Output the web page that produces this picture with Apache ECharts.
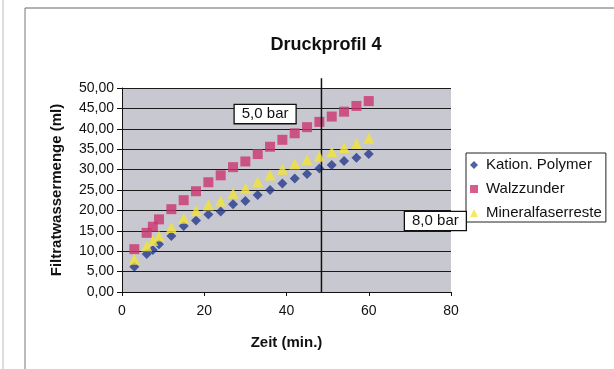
<!DOCTYPE html>
<html>
<head>
<meta charset="utf-8">
<script src="https://cdn.jsdelivr.net/npm/echarts@6/dist/echarts.min.js"></script>
<style>
  html, body { margin: 0; padding: 0; background: #ffffff; }
  #chart { width: 614px; height: 369px; }
</style>
</head>
<body>
<div id="chart"></div>
<script>
// Measurement times (min.)
const zeit = [3, 6, 7.5, 9, 12, 15, 18, 21, 24, 27, 30, 33, 36, 39, 42, 45, 48, 51, 54, 57, 60];

// Filtrate volume (ml) per additive
const kationPolymer = [6.2, 9.3, 10.3, 11.7, 13.7, 16.2, 17.5, 19.0, 19.7, 21.5, 22.3, 23.8, 25.0, 26.6, 27.8, 28.9, 30.3, 31.1, 32.1, 32.9, 33.8];
const walzzunder = [10.5, 14.5, 16.0, 17.8, 20.3, 22.5, 24.7, 26.9, 28.6, 30.6, 32.0, 33.8, 35.6, 37.3, 38.9, 40.4, 41.7, 43.0, 44.2, 45.6, 46.8];
const mineralfaserreste = [8.0, 11.3, 12.6, 13.7, 15.8, 18.1, 19.9, 21.3, 22.3, 24.2, 25.4, 27.0, 28.7, 30.1, 31.4, 32.4, 33.3, 34.4, 35.4, 36.4, 37.7];

// Pressure switch time and pressure stage labels
const druckWechsel = 48.5;
const druckLinieOben = 52.4;
const druckStufen = [
  { text: '5,0 bar', x: 34.8, y: 43.6 },
  { text: '8,0 bar', x: 76.2, y: 17.4 }
];

const pair = (ys) => zeit.map((t, i) => [t, ys[i]]);
const font = '"Liberation Sans", Arial, sans-serif';
const fmt = (v) => v.toFixed(2).replace('.', ',');

const chart = echarts.init(document.getElementById('chart'), null, { renderer: 'canvas' });

chart.setOption({
  animation: false,
  backgroundColor: '#ffffff',
  textStyle: { fontFamily: font },
  title: {
    text: 'Druckprofil 4',
    left: 321, top: 31, textAlign: 'center',
    textStyle: { fontFamily: font, fontSize: 18, fontWeight: 'bold', color: '#111' }
  },
  grid: {
    left: 122, right: 163, top: 88, bottom: 77,
    show: true, backgroundColor: '#c8c8d0', borderWidth: 0
  },
  legend: {
    orient: 'vertical',
    left: 466, top: 153,
    itemWidth: 8, itemHeight: 8, itemGap: 8,
    padding: [4, 4, 1, 4],
    borderColor: '#222', borderWidth: 1,
    backgroundColor: '#ffffff',
    textStyle: { fontFamily: font, fontSize: 15, lineHeight: 16, color: '#111', padding: [0, 0, 0, 3] },
    data: [
      { name: 'Kation. Polymer', icon: 'diamond' },
      { name: 'Walzzunder', icon: 'rect' },
      { name: 'Mineralfaserreste', icon: 'triangle' }
    ]
  },
  xAxis: {
    type: 'value', min: 0, max: 80, interval: 20,
    name: 'Zeit (min.)', nameLocation: 'middle', nameGap: 43,
    nameTextStyle: { fontFamily: font, fontSize: 15, fontWeight: 'bold', color: '#111' },
    axisLine: { show: true, onZero: false, lineStyle: { color: '#111', width: 1 } },
    axisTick: { show: true, inside: false, length: 4, lineStyle: { color: '#111' } },
    axisLabel: { fontFamily: font, fontSize: 14, color: '#111', margin: 12 },
    splitLine: { show: false }
  },
  yAxis: {
    type: 'value', min: 0, max: 50, interval: 5,
    name: 'Filtratwassermenge (ml)', nameLocation: 'middle', nameGap: 58, nameRotate: 90,
    nameTextStyle: { fontFamily: font, fontSize: 15, fontWeight: 'bold', color: '#111' },
    axisLine: { show: true, lineStyle: { color: '#111', width: 1 } },
    axisTick: { show: true, inside: false, length: 5, lineStyle: { color: '#111' } },
    axisLabel: { fontFamily: font, fontSize: 14, color: '#111', margin: 8, formatter: fmt },
    splitLine: { show: true, lineStyle: { color: '#1a1a1a', width: 1.2 } }
  },
  series: [
    {
      name: 'Kation. Polymer', type: 'scatter',
      symbol: 'diamond', symbolSize: 10,
      itemStyle: { color: '#263a8a' },
      data: pair(kationPolymer),
      z: 3
    },
    {
      name: 'Walzzunder', type: 'scatter',
      symbol: 'rect', symbolSize: 10,
      itemStyle: { color: '#cc3670' },
      data: pair(walzzunder),
      z: 3
    },
    {
      name: 'Mineralfaserreste', type: 'scatter',
      symbol: 'triangle', symbolSize: 11,
      itemStyle: { color: '#f2e436' },
      data: pair(mineralfaserreste),
      markPoint: {
        silent: true, symbol: 'rect', symbolSize: 0, animation: false,
        label: {
          show: true, position: 'inside',
          formatter: (p) => p.name,
          fontFamily: font, fontSize: 15, color: '#111',
          backgroundColor: '#ffffff', borderColor: '#111', borderWidth: 1.3,
          padding: [2, 7, 1, 7]
        },
        data: druckStufen.map(d => ({ name: d.text, coord: [d.x, d.y] }))
      },
      z: 5
    },
    {
      // vertical marker at the pressure change, running a little above the plot
      name: 'Druckwechsel', type: 'custom',
      clip: false, silent: true, z: 4,
      data: [[druckWechsel]],
      renderItem: (params, api) => {
        const p0 = api.coord([api.value(0), 0]);
        const p1 = api.coord([api.value(0), druckLinieOben]);
        return {
          type: 'line',
          shape: { x1: p0[0], y1: p0[1], x2: p1[0], y2: p1[1] },
          style: { stroke: '#111', lineWidth: 1.5 }
        };
      }
    }
  ],
  graphic: [
    { type: 'line', shape: { x1: 25, y1: 8, x2: 25, y2: 369 }, style: { stroke: '#777', lineWidth: 1 } },
    { type: 'line', shape: { x1: 25, y1: 8, x2: 614, y2: 8 }, style: { stroke: '#666', lineWidth: 1 } },
    { type: 'line', shape: { x1: 3, y1: 0, x2: 3, y2: 369 }, style: { stroke: '#bbb', lineWidth: 1 } }
  ]
});
</script>
</body>
</html>
